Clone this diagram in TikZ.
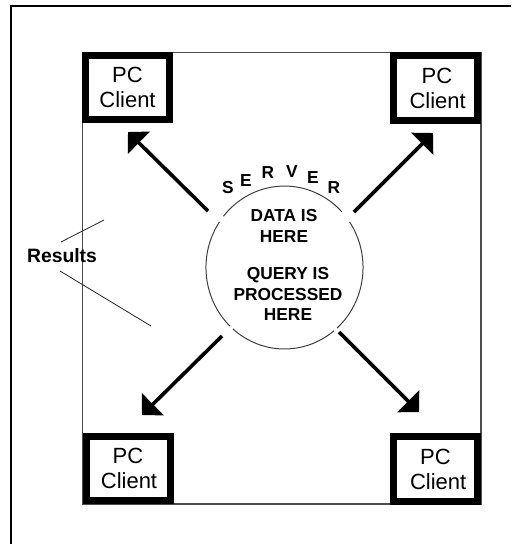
\documentclass[tikz,border=0pt]{standalone}
\usepackage{fontspec}
\setmainfont{Liberation Sans}
\usetikzlibrary{arrows.meta}
\tikzset{
  x=0.75pt,y=-0.75pt,
  frame/.style={draw=black!70,line width=1pt},
  client/.style={draw=black,line width=5.25pt,fill=white,minimum width=63pt,minimum height=48.4pt,inner sep=0pt,align=center,font=\fontsize{16.5pt}{18.75pt}\selectfont,text=black},
  flow/.style={line width=2.7pt,-{Triangle[length=11.5pt,width=23pt]},black},
  srv/.style={font=\fontsize{13pt}{15.5pt}\selectfont\bfseries,align=center,inner sep=0pt},
  srvl/.style={font=\fontsize{13pt}{15pt}\selectfont\bfseries,inner sep=0pt},
  ring/.style={draw=black!75,line width=0.75pt},
  thin line/.style={line width=0.6pt,black!85}
}
\begin{document}
\begin{tikzpicture}
\useasboundingbox (0,0) rectangle (512,544);
\fill[white] (0,0) rectangle (512,544);
\draw[black,line width=1.5pt] (11,544) -- (11,6) -- (511,6);
\draw[frame] (82.7,52.7) rectangle (481,504);
\node[client] (c1) at (127.5,87.7) {PC\\Client};
\node[client] (c2) at (435,88) {\hspace*{3pt}PC\\\hspace*{4pt}Client};
\node[client] (c3) at (128,468.5) {PC\\\hspace*{1.5pt}Client};
\node[client] (c4) at (435.5,469) {PC\\\hspace*{4pt}Client};
\coordinate (srv) at (284.5,267.5);
\draw[ring] ([shift={(43:58.9pt and 61.1pt)}]srv) arc[start angle=43,end angle=141,x radius=58.9pt,y radius=61.1pt];
\draw[ring] ([shift={(146:58.9pt and 61.1pt)}]srv) arc[start angle=146,end angle=226,x radius=58.9pt,y radius=61.1pt];
\draw[ring] ([shift={(229:58.9pt and 61.1pt)}]srv) arc[start angle=229,end angle=309,x radius=58.9pt,y radius=61.1pt];
\draw[ring] ([shift={(312:58.9pt and 61.1pt)}]srv) arc[start angle=312,end angle=394,x radius=58.9pt,y radius=61.1pt];
\node[srv] (t1) at (284,226) {DATA IS\\HERE};
\node[srv] (t2) at (288,294) {QUERY IS\\PROCESSED\\HERE};
\node[srvl] (s1) at (228,188) {S};
\node[srvl] (s2) at (246,181) {E};
\node[srvl] (s3) at (268,173) {R};
\node[srvl] (s4) at (292,172) {V};
\node[srvl] (s5) at (313,178) {E};
\node[srvl] (s6) at (334,188) {R};
\coordinate (a1) at (208,211);
\coordinate (h1) at (128,132);
\coordinate (a2) at (354,212);
\coordinate (h2) at (433,133);
\coordinate (a3) at (222,336);
\coordinate (h3) at (142,415);
\coordinate (a4) at (339,332);
\coordinate (h4) at (419,412);
\draw[flow] (a1) -- (h1);
\draw[flow] (a2) -- (h2);
\draw[flow] (a3) -- (h3);
\draw[flow] (a4) -- (h4);
\node[font=\fontsize{14.5pt}{16pt}\selectfont\bfseries,inner sep=0pt,text=black] (res) at (62,256) {Results};
\coordinate (l1) at (61,242);
\coordinate (l2) at (104,220);
\coordinate (l3) at (60,271);
\coordinate (l4) at (151,326);
\draw[thin line] (l1) -- (l2);
\draw[thin line] (l3) -- (l4);
\end{tikzpicture}
\end{document}
